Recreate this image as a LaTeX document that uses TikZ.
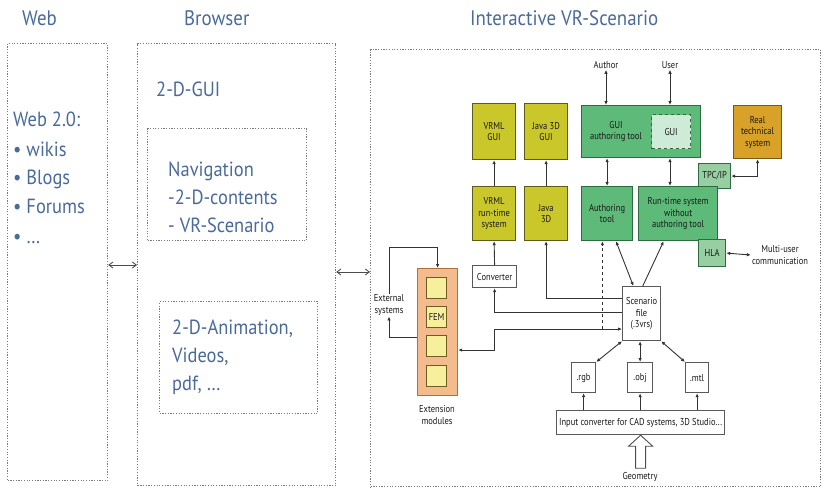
\documentclass[tikz,border=0pt]{standalone}
\usepackage{fontspec}
\usetikzlibrary{arrows.meta,calc}
\newfontfamily\panelfont[FakeStretch=0.9]{PT Sans}
\newfontfamily\labelfont[FakeStretch=0.85]{PT Sans}
\definecolor{panelblue}{HTML}{4A6A9A}
\definecolor{framegrey}{HTML}{7A7A7A}
\definecolor{vryellow}{HTML}{C9C72A}
\definecolor{vryellowd}{HTML}{5E5B14}
\definecolor{vrgreen}{HTML}{5DBA78}
\definecolor{vrgreend}{HTML}{2E6B40}
\definecolor{vrlgreen}{HTML}{97CFA3}
\definecolor{vrpale}{HTML}{CDEBD6}
\definecolor{vrgold}{HTML}{D8A128}
\definecolor{vrgoldd}{HTML}{7A5A14}
\definecolor{vrpeach}{HTML}{F4BC8C}
\definecolor{vrpeachd}{HTML}{B0703E}
\definecolor{vrcream}{HTML}{F6EF9C}
\definecolor{vrcreamd}{HTML}{6E5C22}
\definecolor{wire}{HTML}{333333}
\begin{document}
\begin{tikzpicture}[x=1pt,y=-1pt,
  panel/.style={draw=framegrey, line width=1.2pt, dash pattern=on 1.2pt off 1.5pt},
  title/.style={text=panelblue, font=\panelfont\fontsize{21}{24}\selectfont, anchor=base west, inner sep=0pt},
  bluetext/.style={text=panelblue, font=\panelfont\fontsize{20.5}{28}\selectfont, anchor=base west, inner sep=0pt, align=left},
  box/.style={draw, line width=1.2pt, inner sep=1pt, align=center, anchor=north west,
    font=\labelfont\fontsize{10}{11.5}\selectfont, text=black!90},
  lbl/.style={inner sep=1pt, align=center, font=\labelfont\fontsize{10}{11.5}\selectfont, text=black!90},
  ybox/.style={box, fill=vryellow, draw=vryellowd},
  gbox/.style={box, fill=vrgreen, draw=vrgreend},
  lgbox/.style={box, fill=vrlgreen, draw=vrgreend},
  obox/.style={box, fill=vrgold, draw=vrgoldd},
  wbox/.style={box, fill=white, draw=black!65},
  sqbox/.style={box, fill=vrcream, draw=vrcreamd, minimum width=20pt, minimum height=21pt},
  link/.style={draw=black!70, line width=0.9pt, {Straight Barb[length=4pt,width=6pt]}-{Straight Barb[length=4pt,width=6pt]}},
  arr/.style={draw=wire, line width=0.9pt, -{Latex[length=4pt,width=3.5pt]}},
  dbl/.style={draw=wire, line width=0.9pt, {Latex[length=4pt,width=3.5pt]}-{Latex[length=4pt,width=3.5pt]}}
]
\useasboundingbox (0,0) rectangle (824,489);

% ---------- Web / Browser panels ----------
\node[title] (tweb) at (22,26) {Web};
\node[title] (tbrowser) at (184,26) {Browser};
\node[title] (tvr) at (470,26) {Interactive VR-Scenario};

\node[panel, anchor=north west, minimum width=100pt, minimum height=437pt, inner sep=0pt] (web) at (7,43) {};
\node[panel, anchor=north west, minimum width=198pt, minimum height=442pt, inner sep=0pt] (browser) at (137,43) {};
\node[panel, anchor=north west, minimum width=159pt, minimum height=112pt, inner sep=0pt] (nav) at (147,128) {};
\node[panel, anchor=north west, minimum width=158pt, minimum height=112pt, inner sep=0pt] (anim) at (159,301) {};
\node[panel, anchor=north west, minimum width=450pt, minimum height=437pt, inner sep=0pt] (vr) at (370,49) {};

% multi-line texts: the base anchor sits on the last line
\node[bluetext, font=\panelfont\fontsize{20.5}{29}\selectfont] (webtxt) at (13,243) {Web 2.0:\\ • wikis\\ • Blogs\\ • Forums\\ • \dots};
\node[bluetext] (gui2d) at (156,97) {2-D-GUI};
\node[bluetext] (navtxt) at (168,233) {Navigation\\ -2-D-contents\\ - VR-Scenario};
\node[bluetext] (animtxt) at (172,390) {2-D-Animation,\\ Videos,\\ pdf, \dots};

\draw[link] (web.east |- 0,265) coordinate (wl) -- (browser.west |- wl);
\draw[link] (browser.east |- 0,272) coordinate (bl) -- (vr.west |- bl);

% ---------- VR scenario: top row ----------
\node[lbl] (author) at (606,65) {Author};
\node[lbl] (user) at (670,65) {User};

\node[ybox, minimum width=43pt, minimum height=56pt] (vrmlgui) at (472,103) {VRML\\GUI};
\node[ybox, minimum width=43pt, minimum height=56pt] (j3dgui) at (524,103) {Java 3D\\GUI};
\node[gbox, minimum width=119pt, minimum height=52pt] (guiauth) at (581,105) {};
\node[box, fill=vrpale, draw=vrgreend, dashed, minimum width=39pt, minimum height=34pt] (guigui) at (651,114) {GUI};
\node[lbl] (guiauthtxt) at ($(guiauth.west)!0.5!(guigui.west)$) {GUI\\authoring tool};
\node[obox, minimum width=48pt, minimum height=53pt] (real) at (733,105) {Real\\technical\\system};
\node[lgbox, minimum width=32pt, minimum height=25pt] (tpc) at (698,163) {TPC/IP};

% ---------- VR scenario: second row ----------
\node[ybox, minimum width=43pt, minimum height=54pt] (vrmlrt) at (472,186) {VRML\\run-time\\system};
\node[ybox, minimum width=43pt, minimum height=54pt] (java3d) at (524,186) {Java\\3D};
\node[gbox, minimum width=51pt, minimum height=54pt] (auth) at (581,186) {Authoring\\tool};
\node[gbox, minimum width=79pt, minimum height=54pt] (rts) at (638,186) {Run-time system\\without\\authoring tool};
\node[lgbox, minimum width=27pt, minimum height=27pt] (hla) at (698,239) {HLA};
\node[lbl] (multi) at (780,255) {Multi-user\\communication};

% ---------- converter, scenario file, extensions ----------
\node[wbox, minimum width=44pt, minimum height=22pt] (conv) at (472,265) {Converter};
\node[wbox, minimum width=38pt, minimum height=54pt] (scen) at (622,286) {Scenario\\file\\(.3vrs)};

\node[box, fill=vrpeach, draw=vrpeachd, minimum width=40pt, minimum height=127pt] (ext) at (417,268) {};
\node[sqbox] (sq1) at (426,277) {};
\node[sqbox] (sq2) at (426,306) {FEM};
\node[sqbox] (sq3) at (426,335) {};
\node[sqbox] (sq4) at (426,365) {};
\node[lbl] (extlbl) at (437,415) {Extension\\modules};
\node[lbl] (extsys) at (389,305) {External\\systems};

% ---------- file formats and input converter ----------
\node[wbox, minimum width=24pt, minimum height=30pt] (rgb) at (571,362) {.rgb};
\node[wbox, minimum width=25pt, minimum height=30pt] (obj) at (627,362) {.obj};
\node[wbox, minimum width=23pt, minimum height=30pt] (mtl) at (685,362) {.mtl};
\node[wbox, minimum width=168pt, minimum height=24pt] (inconv) at (556,410) {Input converter for CAD systems, 3D Studio...};
\node[lbl] (geo) at (640,477) {Geometry};

% ---------- connectors ----------
\draw[dbl] (author.south) -- (author.south |- guiauth.north);
\draw[dbl] (user.south) -- (user.south |- guiauth.north);
\draw[dbl] (auth.north) -- (auth.north |- guiauth.south);
\draw[dbl] (user.south |- rts.north) -- (user.south |- guiauth.south);
\draw[dbl] (tpc.east) -| (real.south);
\draw[dbl] (hla.east) -- (multi.west);

\draw[arr] (vrmlrt.north) -- (vrmlgui.south);
\draw[arr] (java3d.north) -- (j3dgui.south);
\draw[arr] (conv.north) -- (vrmlrt.south);

\coordinate (sw1) at ($(scen.north west)!0.22!(scen.south west)$);
\coordinate (sw2) at ($(scen.north west)!0.48!(scen.south west)$);
\coordinate (sw3) at ($(scen.north west)!0.78!(scen.south west)$);
\coordinate (extin) at ($(ext.north east)!0.64!(ext.south east)$);
\coordinate (extout) at ($(ext.north west)!0.54!(ext.south west)$);
\coordinate (authx) at ($(auth.south west)!0.41!(auth.south east)$);

\draw[arr] (sw1) -| (java3d.south);
\draw[arr] (sw2) -| (conv.south);
\draw[dbl] (extin) -- (extin -| conv.south) |- (sw3);
\draw[arr, dashed] (authx |- sw3) -- (authx);

\draw[dbl] ($(auth.south west)!0.67!(auth.south east)$) -- ($(scen.north west)!0.29!(scen.north east)$);
\draw[arr] ($(scen.north west)!0.53!(scen.north east)$) -- ($(rts.south west)!0.32!(rts.south east)$);

\draw[arr] (extsys.north) -- ++(0,-46) -| (ext.north);
\draw[arr] (extout) -| (extsys.south);

\draw[dbl] (scen.south west) -- (rgb.north east);
\draw[dbl] (obj.north) -- (obj.north |- scen.south);
\draw[dbl] (scen.south east) -- (mtl.north west);
\draw[arr] (rgb.south |- inconv.north) -- (rgb.south);
\draw[arr] (obj.south |- inconv.north) -- (obj.south);
\draw[arr] (mtl.south |- inconv.north) -- (mtl.south);

% hollow block arrow carrying geometry into the converter
\draw[line width=0.9pt, draw=black!70, fill=white, line join=miter]
  (inconv.south) -- ++(12,11) -- ++(-7,0) -- ++(0,22) -- ++(-10,0) -- ++(0,-22) -- ++(-7,0) -- cycle;
\end{tikzpicture}
\end{document}
